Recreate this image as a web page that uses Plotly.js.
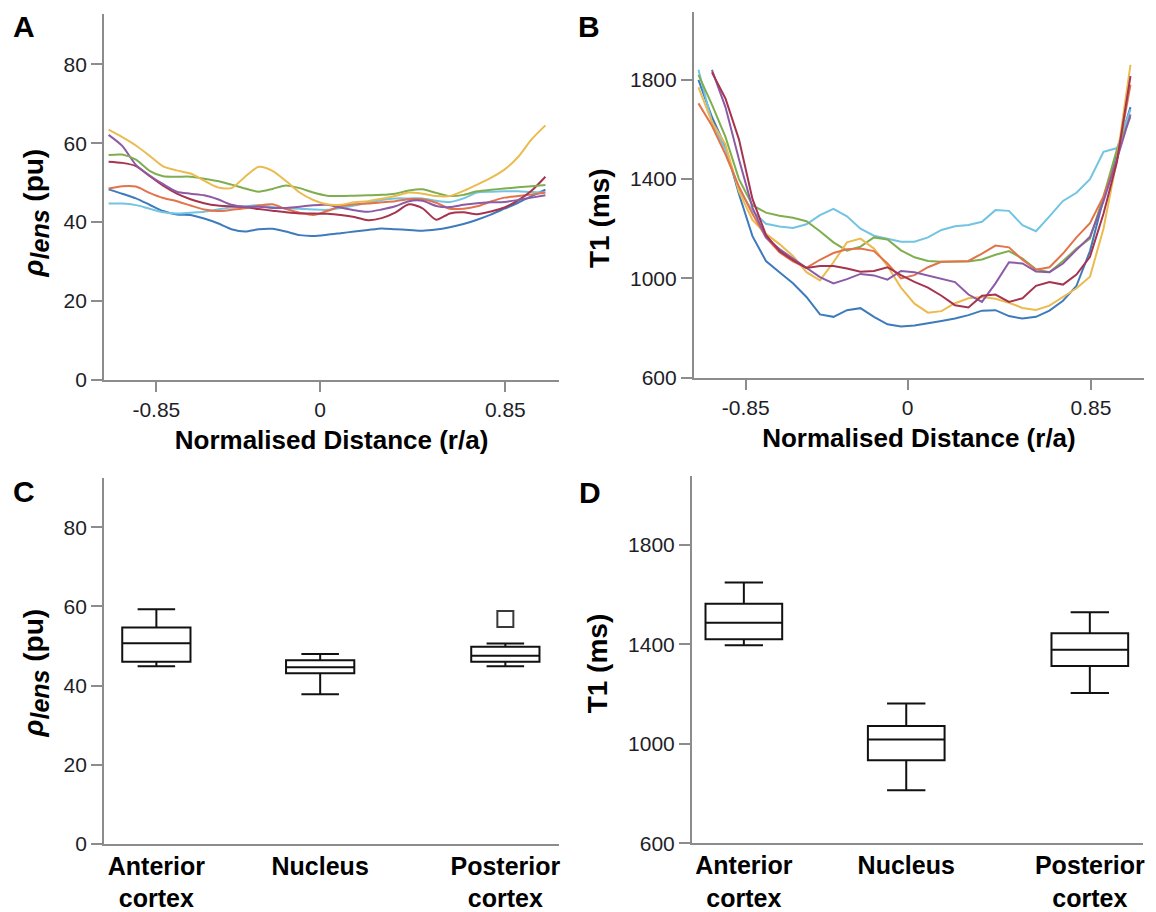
<!DOCTYPE html>
<html>
<head>
<meta charset="utf-8">
<script src="https://cdn.plot.ly/plotly-3.0.1.min.js"></script>
<style>
  html, body { margin: 0; padding: 0; background: #ffffff; }
  #chart { width: 1156px; height: 912px; }
</style>
</head>
<body>
<div id="chart"></div>
<script>
// ---------- Data ----------
// Sample positions along the lens axis (plot units; ticks labelled in r/a)
const pos = [1, 4, 7, 10, 13, 16, 19, 22, 25, 28, 31, 34, 37, 40, 43, 46, 49,
             52, 55, 58, 61, 64, 67, 70, 73, 76, 79, 82, 85, 88, 91, 94, 97];
const distTickPos = [11.5, 47.5, 88.2];
const distTickText = ['-0.85', '0', '0.85'];

// Panel A: rho_lens (pu) profiles, one per subject
const rhoBlue   = [48.3, 47.2, 46.0, 44.4, 42.8, 41.9, 41.8, 40.9, 39.7, 38.2, 37.6, 38.2, 38.3, 37.6, 36.7, 36.5, 36.8,
                   37.2, 37.6, 38.0, 38.4, 38.2, 38.0, 37.8, 38.1, 38.7, 39.5, 40.6, 41.9, 43.4, 44.9, 46.6, 48.2];
const rhoCyan   = [44.7, 44.7, 44.3, 43.4, 42.5, 42.2, 42.4, 42.6, 43.2, 43.7, 44.0, 44.3, 43.8, 43.5, 43.4, 43.2, 43.1,
                   43.6, 44.2, 44.9, 45.6, 46.0, 46.0, 46.0, 45.4, 45.1, 46.0, 47.5, 47.7, 47.8, 47.8, 47.6, 47.5];
const rhoGreen  = [57.0, 57.1, 55.8, 53.0, 51.6, 51.5, 51.5, 51.0, 50.4, 49.5, 48.5, 47.7, 48.4, 49.3, 48.6, 47.5, 46.7,
                   46.6, 46.7, 46.8, 46.9, 47.2, 48.0, 48.3, 47.4, 46.6, 46.9, 47.8, 48.2, 48.5, 48.8, 49.1, 49.4];
const rhoYellow = [63.4, 61.5, 59.4, 56.8, 54.1, 53.1, 52.3, 50.5, 48.8, 48.6, 51.5, 54.0, 53.0, 50.4, 47.5, 45.6, 44.5,
                   44.4, 45.0, 45.3, 45.9, 46.6, 47.5, 47.2, 46.6, 46.6, 47.9, 49.5, 51.2, 53.3, 56.5, 61.0, 64.5];
const rhoOrange = [48.5, 49.1, 49.0, 47.4, 46.1, 45.3, 44.2, 43.2, 42.8, 43.1, 43.5, 44.2, 44.5, 43.3, 42.4, 41.8, 42.8,
                   44.0, 44.5, 44.7, 45.0, 45.3, 45.8, 45.8, 44.9, 43.4, 43.4, 44.0, 45.2, 46.2, 46.6, 47.0, 47.5];
const rhoPurple = [62.1, 59.3, 54.5, 51.8, 49.6, 47.7, 47.2, 46.8, 45.8, 44.4, 43.9, 43.9, 43.6, 43.6, 43.9, 44.3, 44.4,
                   43.7, 43.0, 42.6, 43.2, 44.0, 45.3, 45.4, 44.1, 43.8, 44.4, 44.8, 45.0, 45.1, 45.6, 46.2, 46.8];
const rhoMaroon = [55.3, 55.0, 54.2, 51.7, 49.2, 47.2, 45.8, 44.8, 44.2, 44.0, 43.8, 43.3, 42.9, 42.5, 42.2, 42.2, 42.1,
                   41.8, 41.3, 40.5, 41.0, 42.4, 44.5, 43.5, 40.6, 42.2, 42.5, 42.0, 42.7, 43.7, 45.5, 48.0, 51.5];

// Panel B: T1 (ms) profiles, one per subject
const t1Blue   = [1800, 1650, 1530, 1340, 1170, 1070, 1025, 980, 925, 855, 845, 872, 880, 845, 815, 806, 810,
                  818, 828, 838, 852, 870, 872, 848, 838, 845, 870, 910, 970, 1110, 1320, 1510, 1690];
const t1Cyan   = [1840, 1630, 1520, 1360, 1270, 1220, 1209, 1203, 1218, 1255, 1280, 1250, 1200, 1172, 1160, 1148, 1148,
                  1165, 1195, 1210, 1215, 1228, 1275, 1272, 1214, 1190, 1250, 1312, 1345, 1400, 1510, 1525, 1680];
const t1Green  = [1820, 1700, 1570, 1400, 1295, 1265, 1252, 1244, 1230, 1190, 1145, 1112, 1128, 1165, 1157, 1113, 1085,
                  1070, 1067, 1067, 1068, 1076, 1095, 1110, 1080, 1037, 1025, 1070, 1120, 1160, 1330, 1520, 1650];
const t1Yellow = [1770, 1630, 1540, 1350, 1235, 1180, 1138, 1090, 1025, 992, 1065, 1145, 1160, 1120, 1050, 963, 898,
                  862, 868, 900, 920, 925, 918, 902, 881, 873, 890, 925, 960, 1007, 1200, 1480, 1860];
const t1Orange = [1705, 1615, 1500, 1370, 1260, 1165, 1105, 1068, 1042, 1075, 1102, 1117, 1120, 1110, 1060, 1000, 1013,
                  1045, 1067, 1067, 1070, 1100, 1132, 1125, 1075, 1035, 1045, 1100, 1165, 1222, 1330, 1480, 1780];
const t1Purple = [null, 1840, 1690, 1480, 1285, 1165, 1118, 1080, 1042, 1005, 980, 997, 1018, 1012, 995, 1030, 1025,
                  1012, 1000, 985, 935, 905, 980, 1065, 1060, 1028, 1025, 1060, 1115, 1168, 1310, 1480, 1660];
const t1Maroon = [null, 1830, 1725, 1560, 1320, 1175, 1110, 1073, 1042, 1050, 1050, 1040, 1027, 1030, 1045, 1013, 986,
                  963, 930, 892, 883, 930, 935, 905, 920, 970, 985, 975, 1015, 1087, 1260, 1470, 1815];

// Panels C and D: regional box plots
const regions = ['Anterior<br>cortex', 'Nucleus', 'Posterior<br>cortex'];
const regionPos = [11.5, 47.5, 88.2];

const rhoLower  = [44.9, 37.8, 44.9];
const rhoQ1     = [46.0, 43.1, 46.0];
const rhoMedian = [50.7, 44.6, 47.5];
const rhoQ3     = [54.7, 46.4, 49.8];
const rhoUpper  = [59.3, 48.0, 50.6];
const rhoOutlierPos = [88.2];
const rhoOutlier    = [56.8];

const t1Lower  = [1397, 814, 1205];
const t1Q1     = [1421, 934, 1313];
const t1Median = [1487, 1018, 1379];
const t1Q3     = [1564, 1072, 1445];
const t1Upper  = [1649, 1163, 1530];

// ---------- Styling ----------
const FONT = 'Liberation Sans, Arial, Helvetica, sans-serif';
const colors = {
  blue: '#3d7bbd', cyan: '#72c4e2', green: '#7fae4f', yellow: '#ebbb50',
  orange: '#e2734a', purple: '#8d5ba6', maroon: '#a6344f'
};

function lineTrace(y, color, xa, ya, smooth) {
  const line = { color: color, width: 2 };
  if (smooth) { line.shape = 'spline'; line.smoothing = 0.7; }
  return { type: 'scatter', mode: 'lines', x: pos, y: y, xaxis: xa, yaxis: ya,
           line: line, connectgaps: false, hoverinfo: 'skip', showlegend: false };
}

const traces = [
  lineTrace(rhoBlue, colors.blue, 'x', 'y', true),
  lineTrace(rhoCyan, colors.cyan, 'x', 'y', true),
  lineTrace(rhoOrange, colors.orange, 'x', 'y', true),
  lineTrace(rhoMaroon, colors.maroon, 'x', 'y', true),
  lineTrace(rhoPurple, colors.purple, 'x', 'y', true),
  lineTrace(rhoGreen, colors.green, 'x', 'y', true),
  lineTrace(rhoYellow, colors.yellow, 'x', 'y', true),

  lineTrace(t1Blue, colors.blue, 'x2', 'y2', false),
  lineTrace(t1Cyan, colors.cyan, 'x2', 'y2', false),
  lineTrace(t1Green, colors.green, 'x2', 'y2', false),
  lineTrace(t1Yellow, colors.yellow, 'x2', 'y2', false),
  lineTrace(t1Orange, colors.orange, 'x2', 'y2', false),
  lineTrace(t1Purple, colors.purple, 'x2', 'y2', false),
  lineTrace(t1Maroon, colors.maroon, 'x2', 'y2', false),

  { type: 'box', x: regionPos, q1: rhoQ1, median: rhoMedian, q3: rhoQ3,
    lowerfence: rhoLower, upperfence: rhoUpper, width: 15, whiskerwidth: 0.55,
    xaxis: 'x3', yaxis: 'y3', fillcolor: 'rgba(255,255,255,0)',
    line: { color: '#111111', width: 2 }, boxpoints: false, showlegend: false, hoverinfo: 'skip' },
  { type: 'scatter', mode: 'markers', x: rhoOutlierPos, y: rhoOutlier, xaxis: 'x3', yaxis: 'y3',
    marker: { symbol: 'square-open', size: 16, color: '#3a3a3a', line: { width: 2, color: '#3a3a3a' } },
    showlegend: false, hoverinfo: 'skip' },

  { type: 'box', x: regionPos, q1: t1Q1, median: t1Median, q3: t1Q3,
    lowerfence: t1Lower, upperfence: t1Upper, width: 17, whiskerwidth: 0.5,
    xaxis: 'x4', yaxis: 'y4', fillcolor: 'rgba(255,255,255,0)',
    line: { color: '#111111', width: 2 }, boxpoints: false, showlegend: false, hoverinfo: 'skip' }
];

const AXC = '#8c8c8c';
const tickFont = { family: FONT, size: 21, color: '#1e1e28' };
const titleFontX = { family: FONT, size: 26, color: '#000000' };
const titleFontY = { family: FONT, size: 28, color: '#000000' };

function xAxisLine(domain, anchor, title) {
  return {
    domain: domain, anchor: anchor, range: [0, 100], fixedrange: true,
    showline: true, linecolor: AXC, linewidth: 2, showgrid: false, zeroline: false,
    ticks: 'outside', ticklen: 10, tickwidth: 2, tickcolor: AXC,
    tickmode: 'array', tickvals: distTickPos, ticktext: distTickText,
    tickfont: tickFont, automargin: false,
    title: { text: '<b>' + title + '</b>', font: titleFontX, standoff: 11 }
  };
}
function xAxisCat(domain, anchor) {
  return {
    domain: domain, anchor: anchor, range: [0, 100], fixedrange: true,
    showline: true, linecolor: AXC, linewidth: 2, showgrid: false, zeroline: false,
    ticks: '', tickmode: 'array', tickvals: regionPos,
    ticktext: regions.map(r => '<b>' + r + '</b>'),
    tickfont: { family: FONT, size: 25, color: '#000000' }, automargin: false,
    ticklabelstandoff: -1
  };
}
function yAxis(domain, anchor, range, tickvals, title) {
  return {
    domain: domain, anchor: anchor, range: range, fixedrange: true,
    showline: true, linecolor: AXC, linewidth: 2, showgrid: false, zeroline: false,
    ticks: 'outside', ticklen: 11, tickwidth: 2, tickcolor: AXC,
    tickmode: 'array', tickvals: tickvals, tickfont: tickFont, automargin: false,
    title: { text: title, font: titleFontY, standoff: 12 }
  };
}

// trailing non-breaking spaces nudge the rotated titles down, as in the reference
const pad = n => '&nbsp;'.repeat(n);
const rhoCore = '<b><i>ρ</i><sub><span style="font-size:25px"><i>lens</i></span></sub> (pu)</b>';
const t1Core = '<b>T1 (ms)</b>';

const layout = {
  width: 1156, height: 912,
  margin: { l: 0, r: 0, t: 0, b: 0 },
  paper_bgcolor: '#ffffff', plot_bgcolor: '#ffffff',
  font: { family: FONT },
  showlegend: false,
  xaxis:  xAxisLine([0.09, 0.4836], 'y', 'Normalised Distance (r/a)'),
  yaxis:  yAxis([0.5833, 0.9846], 'x', [0, 92.7], [0, 20, 40, 60, 80], rhoCore + pad(4)),
  xaxis2: xAxisLine([0.6003, 0.9896], 'y2', 'Normalised Distance (r/a)'),
  yaxis2: yAxis([0.5859, 0.9868], 'x2', [600, 2073], [600, 1000, 1400, 1800], t1Core + pad(6)),
  xaxis3: xAxisCat([0.09, 0.4836], 'y3'),
  yaxis3: yAxis([0.0749, 0.4755], 'x3', [0, 92.4], [0, 20, 40, 60, 80], rhoCore + pad(3)),
  xaxis4: xAxisCat([0.5986, 0.9888], 'y4'),
  yaxis4: yAxis([0.0753, 0.4781], 'x4', [600, 2078], [600, 1000, 1400, 1800], t1Core + pad(1)),
  annotations: [
    { text: '<b>A</b>', x: 11 / 1156, y: 1 - 27 / 912 },
    { text: '<b>B</b>', x: 576 / 1156, y: 1 - 27 / 912 },
    { text: '<b>C</b>', x: 11 / 1156, y: 1 - 491 / 912 },
    { text: '<b>D</b>', x: 577 / 1156, y: 1 - 492 / 912 }
  ].map(a => Object.assign({ xref: 'paper', yref: 'paper', xanchor: 'left', yanchor: 'middle',
                             showarrow: false, font: { family: FONT, size: 30, color: '#000000' } }, a))
};

Plotly.newPlot('chart', traces, layout, { staticPlot: true, displayModeBar: false });
</script>
</body>
</html>
